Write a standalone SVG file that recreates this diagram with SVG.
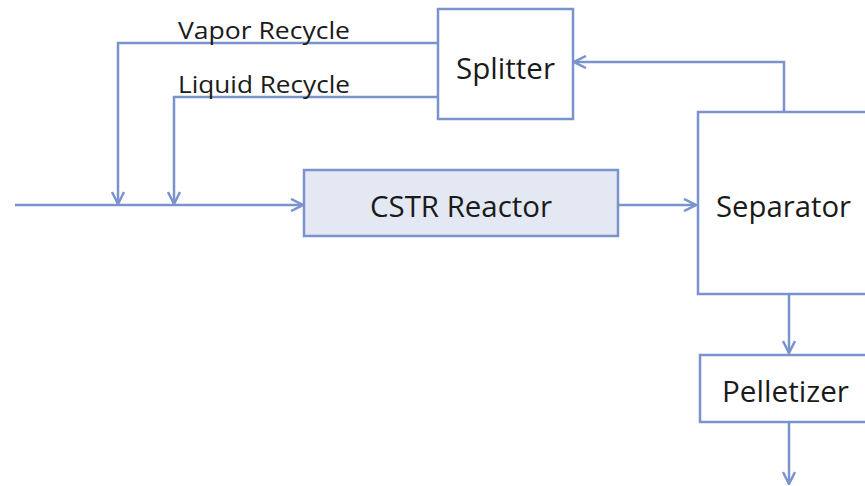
<svg xmlns="http://www.w3.org/2000/svg" width="865" height="486" viewBox="0 0 865 486">
<style>
.box{fill:#ffffff;stroke:#7b93cc;stroke-width:2.5}
.cstr{fill:#e4e8f2;stroke:#7b93cc;stroke-width:2.5}
.ln{fill:none;stroke:#7b93cc;stroke-width:2.5}
.t{font-family:"Open Sans","Liberation Sans",sans-serif;font-size:29px;fill:#1a1a1a}
.lbl{font-family:"Open Sans","Liberation Sans",sans-serif;font-size:24px;fill:#1a1a1a}
</style>
<defs>
<marker id="ah" viewBox="0 0 14 14" refX="13" refY="7" markerWidth="14" markerHeight="14" markerUnits="userSpaceOnUse" orient="auto">
<path d="M1,1 L13,7 L1,13" fill="none" stroke="#7b93cc" stroke-width="2.5"/>
</marker>
</defs>
<g id="connectors">
<path class="ln" d="M15,205 H303" marker-end="url(#ah)"/>
<path class="ln" d="M438,43 H118 V204" marker-end="url(#ah)"/>
<path class="ln" d="M438,97 H174 V204" marker-end="url(#ah)"/>
<path class="ln" d="M618,205 H696" marker-end="url(#ah)"/>
<path class="ln" d="M784,111 V62 H574" marker-end="url(#ah)"/>
<path class="ln" d="M789,294 V353" marker-end="url(#ah)"/>
<path class="ln" d="M789,422 V484" marker-end="url(#ah)"/>
<text class="lbl" x="178" y="39" textLength="172" lengthAdjust="spacingAndGlyphs">Vapor Recycle</text>
<text class="lbl" x="178" y="93" textLength="172" lengthAdjust="spacingAndGlyphs">Liquid Recycle</text>
</g>
<g id="splitter">
<rect class="box" x="438" y="9" width="135" height="110"/>
<text class="t" x="456" y="79" textLength="99" lengthAdjust="spacingAndGlyphs">Splitter</text>
</g>
<g id="cstr">
<rect class="cstr" x="304" y="170" width="314" height="66"/>
<text class="t" x="370" y="217" textLength="182" lengthAdjust="spacingAndGlyphs">CSTR Reactor</text>
</g>
<g id="separator">
<rect class="box" x="698" y="112" width="180" height="182"/>
<text class="t" x="716" y="217" textLength="135" lengthAdjust="spacingAndGlyphs">Separator</text>
</g>
<g id="pelletizer">
<rect class="box" x="700" y="355" width="178" height="67"/>
<text class="t" x="722" y="402" textLength="127" lengthAdjust="spacingAndGlyphs">Pelletizer</text>
</g>
</svg>
